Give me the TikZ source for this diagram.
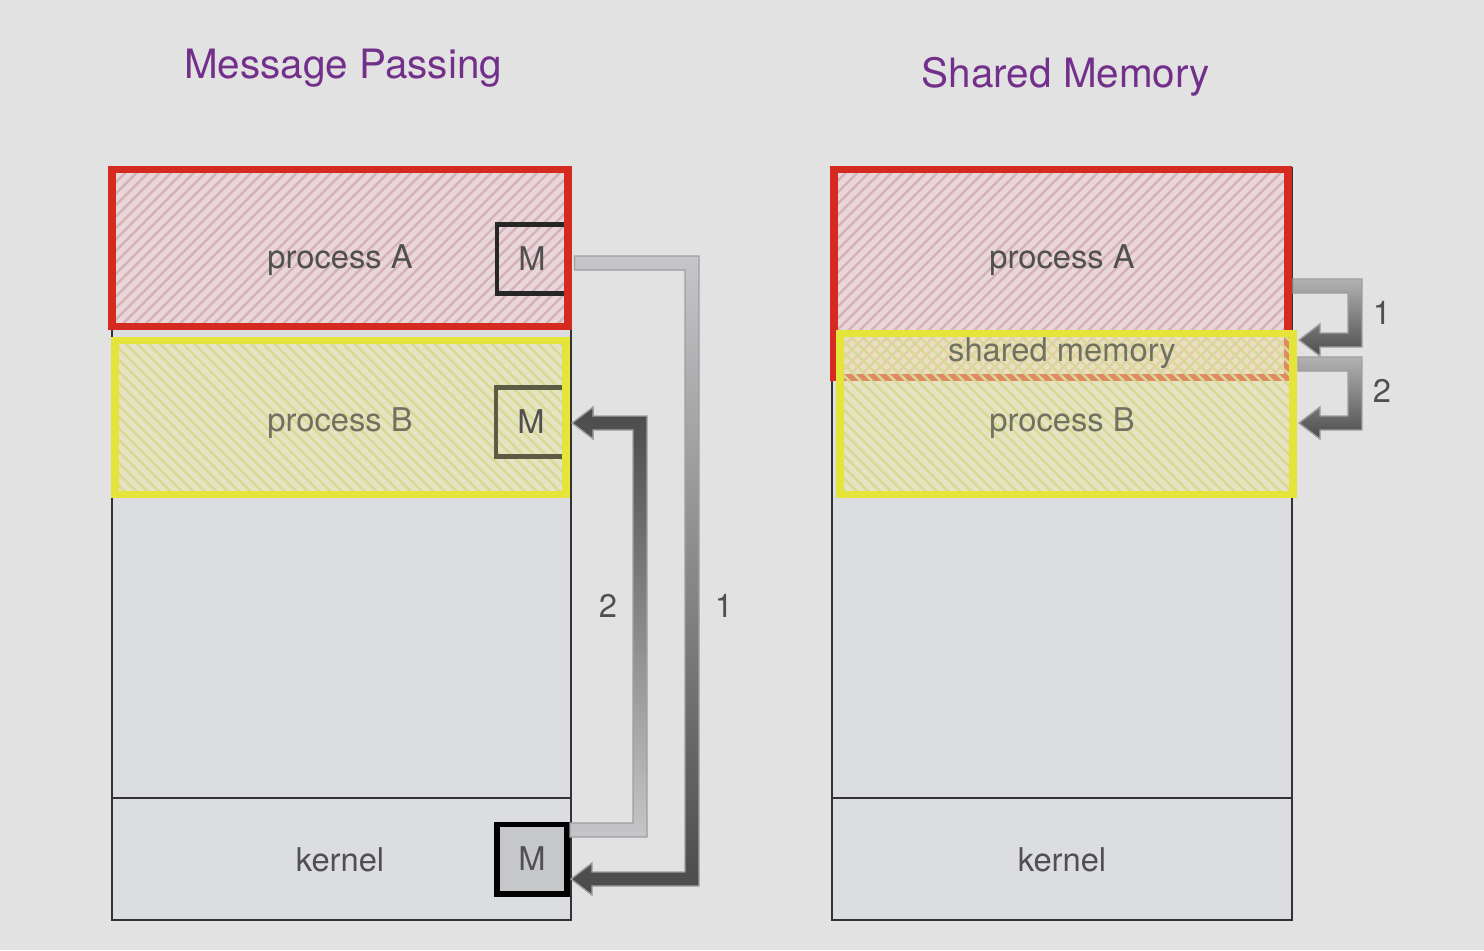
\documentclass[tikz,border=0pt]{standalone}
\usepackage{fontspec}
\setmainfont{TeX Gyre Heros}
\usepackage{tikz}
\usetikzlibrary{calc,patterns.meta}
\definecolor{bg}{HTML}{E2E2E2}
\definecolor{colfill}{HTML}{DCDDE1}
\definecolor{redline}{HTML}{D42A1F}
\definecolor{yelline}{HTML}{E4E43A}
\definecolor{pinkfill}{HTML}{E8D6DA}
\definecolor{pinkhatch}{HTML}{D6B2B8}
\definecolor{yelfill}{HTML}{ECEBA7}
\definecolor{yelhatch}{HTML}{D9D996}
\definecolor{titlepurple}{HTML}{72308A}
\definecolor{txtgray}{HTML}{505050}
\definecolor{olive}{HTML}{5C5C44}
\definecolor{olivetxt}{HTML}{717160}
\definecolor{arrlight}{HTML}{C6C6CA}
\definecolor{arrdark}{HTML}{4A4A4A}
\newlength\hw \setlength\hw{0.07cm}
\newlength\hh \setlength\hh{0.16cm}
\newlength\hl \setlength\hl{0.21cm}
\newcommand{\bendarrow}[5][]{%
\shade[draw=gray!75,line width=0.4pt,#1] let \p1=(#2), \p2=(#3), \p3=(#4) in
  (\x1,{\y1+(#5)*\hw}) -- ({\x2+\hw},{\y1+(#5)*\hw}) -- ({\x2+\hw},{\y3-(#5)*\hw})
  -- ({\x3+\hl},{\y3-(#5)*\hw}) -- ({\x3+\hl},{\y3-(#5)*\hh}) -- (\x3,\y3)
  -- ({\x3+\hl},{\y3+(#5)*\hh}) -- ({\x3+\hl},{\y3+(#5)*\hw}) -- ({\x2-\hw},{\y3+(#5)*\hw})
  -- ({\x2-\hw},{\y1-(#5)*\hw}) -- (\x1,{\y1-(#5)*\hw}) -- cycle;}
\tikzset{
  column/.style={draw=black!80,line width=0.6pt},
  procA/.style={draw=redline,line width=2pt},
  procB/.style={draw=yelline,line width=2pt},
  hatchA/.style={pattern={Lines[angle=45,distance=2.3pt,line width=0.7pt]},pattern color=pinkhatch},
  hatchB/.style={pattern={Lines[angle=-45,distance=2.3pt,line width=0.7pt]},pattern color=yelhatch},
  lbl/.style={font=\fontsize{9.3}{11}\selectfont,text=txtgray},
  title/.style={font=\fontsize{11.5}{14}\selectfont,text=titlepurple},
  mbox/.style={lbl,draw,minimum width=0.7cm,minimum height=0.69cm,inner sep=0pt}
}
\begin{document}
\begin{tikzpicture}[x=0.01cm,y=-0.01cm]
\fill[bg] (0,0) rectangle (1484,950);
\useasboundingbox (0,0) rectangle (1484,950);
\node[title] at (343,68) {Message Passing};
\node[title] at (1066,77) {Shared Memory};

\draw[column,fill=colfill] (112,167) rectangle (571,920);
\draw[column] (112,798) -- (571,798);
\fill[pinkfill] (112,169) rectangle (568,326); \fill[hatchA] (112,169) rectangle (568,326);
\fill[yelfill,fill opacity=0.5] (115,340) rectangle (566,494); \fill[hatchB] (115,340) rectangle (566,494);
\node[mbox,draw=black!85,line width=1.4pt] (mA) at (532,259) {M};
\node[mbox,draw=olive,line width=1.2pt] (mB) at (531,422) {M};
\draw[procA] (112,169) rectangle (568,326);
\draw[procB] (115,340) rectangle (566,494);
\node[lbl] (pA) at (340,260) {process A};
\node[lbl,text=olivetxt] (pB) at (340,423) {process B};
\node[lbl] (kL) at (340,860) {kernel};
\node[mbox,draw=black,fill=black!10!colfill,line width=1.7pt] (mK) at (532,859) {M};
\coordinate (bendO) at (692,0); \coordinate (bendI) at (640,0);
\bendarrow[top color=arrlight,bottom color=arrdark]{$(mA.east)+(5,4)$}{bendO}{$(mK.east)+(1,20)$}{1}
\bendarrow[top color=arrdark,bottom color=arrlight]{$(mK.east)+(0,-29)$}{bendI}{$(mB.east)+(4,1)$}{-1}
\node[lbl] at (608,606) {2}; \node[lbl] at (724,606) {1};

\draw[column,fill=colfill] (832,168) rectangle (1292,920);
\draw[column] (832,798) -- (1292,798);
\fill[pinkfill] (834,169) rectangle (1288,377); \fill[hatchA] (834,169) rectangle (1288,377);
\draw[procA] (834,169) rectangle (1288,377);
\fill[yelfill,fill opacity=0.5] (840,333) rectangle (1293,494); \fill[hatchB] (840,333) rectangle (1293,494);
\draw[procB] (840,333) rectangle (1293,494);
\node[lbl] (sA) at (1062,260) {process A};
\node[lbl,text=olivetxt] (sM) at (1062,353) {shared memory};
\node[lbl,text=olivetxt] (sB) at (1062,423) {process B};
\node[lbl] (kR) at (1062,860) {kernel};
\coordinate (outA) at (1293,286); \coordinate (inS) at (1299,340);
\coordinate (outS) at (1298,364); \coordinate (inB) at (1299,423);
\coordinate (bendR) at (1355,0);
\bendarrow[top color=black!30,bottom color=black!70]{outA}{bendR}{inS}{1}
\bendarrow[top color=black!30,bottom color=black!70]{outS}{bendR}{inB}{1}
\node[lbl] at (1382,313) {1}; \node[lbl] at (1382,391) {2};
\end{tikzpicture}
\end{document}
